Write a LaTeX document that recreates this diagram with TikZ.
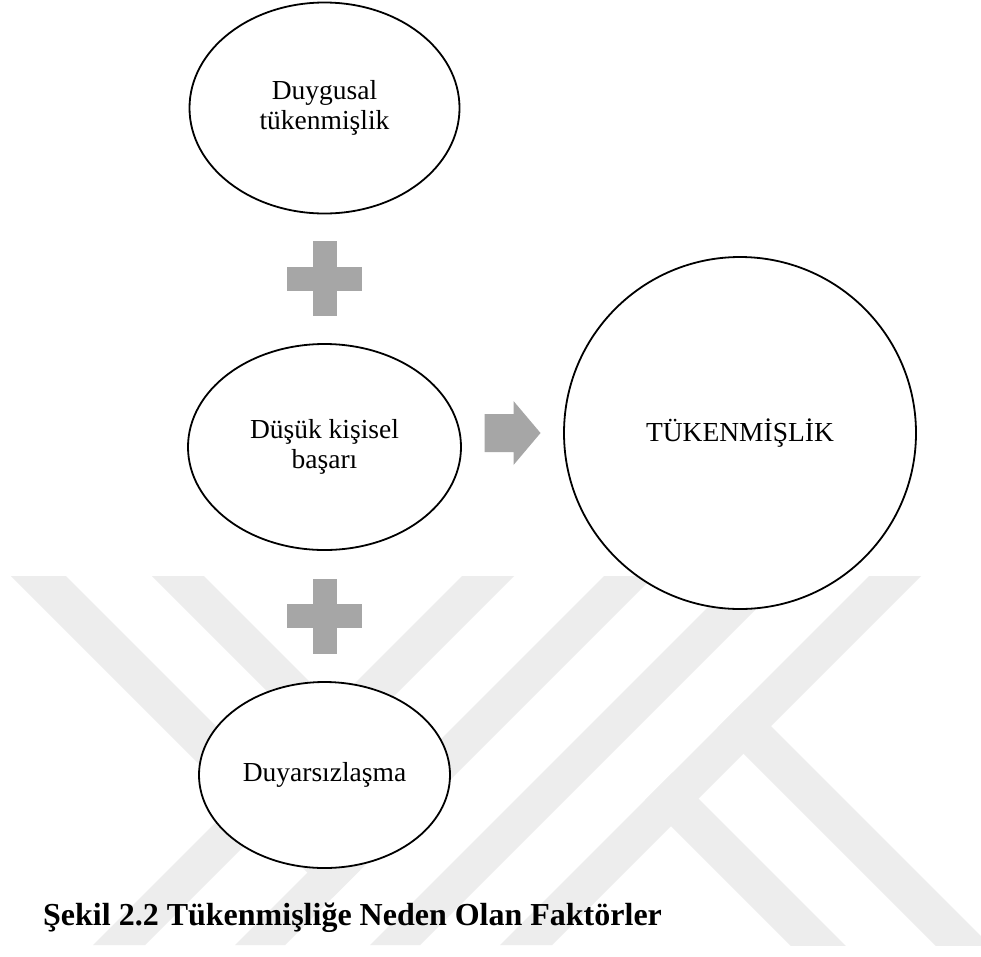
\documentclass[tikz,border=0pt]{standalone}
\usepackage{fontspec}
\setmainfont{Liberation Serif}
\usetikzlibrary{shapes.geometric,calc}
\definecolor{wmgray}{RGB}{237,237,237}
\definecolor{shapegray}{RGB}{166,166,166}
\tikzset{
  bubble/.style={ellipse, draw=black, line width=1.8pt, fill=white, inner sep=0pt,
    align=center, font=\fontsize{27.5}{30}\selectfont},
  bigbubble/.style={circle, draw=black, line width=1.8pt, fill=white, inner sep=0pt,
    align=center, font=\fontsize{27.5}{30}\selectfont},
  captionstyle/.style={anchor=base west, inner sep=0pt, font=\bfseries\fontsize{32}{36}\selectfont},
  watermark/.style={fill=wmgray},
  pics/plussign/.style={code={
    \fill[shapegray] (-12,-37.5) rectangle (12,37.5);
    \fill[shapegray] (-37.5,-12) rectangle (37.5,12);
  }},
  pics/fatarrow/.style={code={
    \fill[shapegray] (-28,-19) -- (1,-19) -- (1,-32) -- (28,0) -- (1,32) -- (1,19) -- (-28,19) -- cycle;
  }}
}
\begin{document}
\begin{tikzpicture}[x=1pt,y=-1pt]
\fill[white] (0,0) rectangle (981,956);
\useasboundingbox (0,0) rectangle (981,956);
% faint watermark
\begin{scope}
  \clip (0,576) rectangle (981,945);
  \fill[watermark] (11,576) -- (66,576) -- (360,870) -- (332.5,897.5) -- cycle;
  \fill[watermark] (604,576) -- (654,576) -- (285,945) -- (235,945) -- cycle;
  \fill[watermark] (152,576) -- (204,576) -- (359,731) -- (333,757) -- cycle;
  \fill[watermark] (462,576) -- (514,576) -- (145,945) -- (93,945) -- cycle;
  \fill[watermark] (739,576) -- (789,576) -- (420,945) -- (370,945) -- cycle;
  \fill[watermark] (869,576) -- (921,576) -- (552,945) -- (500,945) -- cycle;
  \fill[watermark] (717.5,727.5) -- (745,700) -- (1145,1100) -- (1090,1100) -- cycle;
  \fill[watermark] (645,800) -- (672.5,772.5) -- (1000,1100) -- (945,1100) -- cycle;
\end{scope}
% nodes
\node[bubble, minimum width=270pt, minimum height=211pt] (e1) at (324.5,108) {Duygusal\\tükenmişlik};
\node[bubble, minimum width=273pt, minimum height=206pt] (e2) at (324.5,447) {Düşük kişisel\\başarı};
\node[bubble, minimum width=251pt, minimum height=186pt] (e3) at (324.5,775) {Duyarsızlaşma};
\node[bigbubble, minimum size=352pt] (big) at (740,433) {TÜKENMİŞLİK};
% connectors
\pic at ($(e1.south)!0.5!(e2.north)$) {plussign};
\pic at ($(e2.south)!0.5!(e3.north)$) {plussign};
\coordinate (arrmid) at ($(e2.east)!0.5!(big.west)$);
\pic at (arrmid |- big.center) {fatarrow};
% caption
\node[captionstyle] (cap) at (43,925) {Şekil 2.2 Tükenmişliğe Neden Olan Faktörler};
\end{tikzpicture}
\end{document}
